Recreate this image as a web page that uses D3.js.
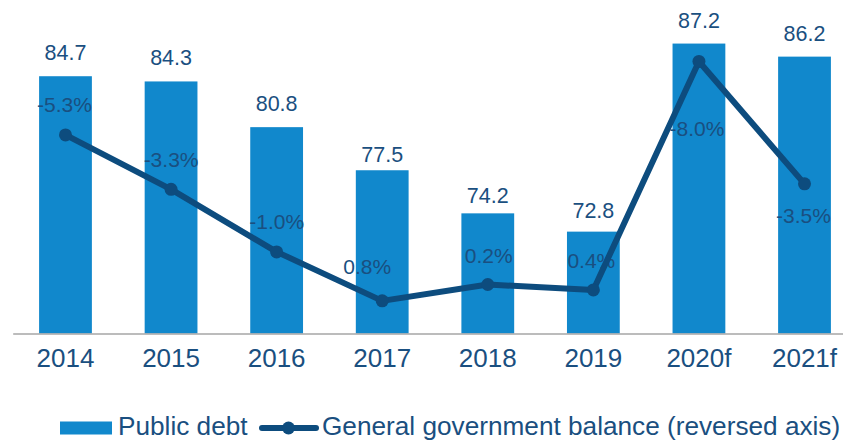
<!DOCTYPE html>
<html>
<head>
<meta charset="utf-8">
<script src="https://cdn.jsdelivr.net/npm/d3@7"></script>
<style>
  html, body { margin: 0; padding: 0; background: #fff; overflow: hidden; }
  svg { display: block; font-family: "Liberation Sans", Arial, sans-serif; }
</style>
</head>
<body>
<svg id="chart" width="843" height="440"></svg>
<script>
// ---- data ----
const categories = ["2014", "2015", "2016", "2017", "2018", "2019", "2020f", "2021f"];
const publicDebt = [84.7, 84.3, 80.8, 77.5, 74.2, 72.8, 87.2, 86.2];
const govBalance = [-5.3, -3.3, -1.0, 0.8, 0.2, 0.4, -8.0, -3.5];
const seriesNames = ["Public debt", "General government balance (reversed axis)"];

// ---- label placement (style, not data) ----
const debtLabelDy = [-16, -16, -16, -8, -10, -14, -16, -16];
const balLabelDx = [-1, 0, 0, -15, 1, -2, -2, -1];
const balLabelDy = [-23, -22, -23, -27, -22, -22, 75, 39];

const W = 843, H = 440;
const barColor = "#1188cc", lineColor = "#0d4c7e", textColor = "#1a4f80";

const svg = d3.select("#chart");

const x = d3.scaleBand().domain(categories).range([12.7, 857.3])
  .paddingInner(0.5).paddingOuter(0.25);
const yBar = d3.scaleLinear().domain([65, 90]).range([333.5, 7]);
const yLine = d3.scaleLinear().domain([2, -10]).range([333.5, 7]);

// bars
svg.append("g").selectAll("rect").data(categories).join("rect")
  .attr("x", d => x(d))
  .attr("width", x.bandwidth())
  .attr("y", (d, i) => yBar(publicDebt[i]))
  .attr("height", (d, i) => yBar.range()[0] - yBar(publicDebt[i]))
  .attr("fill", barColor);

// bar labels
svg.append("g").selectAll("text").data(categories).join("text")
  .attr("x", d => x(d) + x.bandwidth() / 2)
  .attr("y", (d, i) => yBar(publicDebt[i]) + debtLabelDy[i])
  .attr("text-anchor", "middle")
  .attr("font-size", 21.5)
  .attr("fill", textColor)
  .text((d, i) => publicDebt[i].toFixed(1));

// x axis
const xAxis = svg.append("g")
  .attr("transform", `translate(0,${yBar.range()[0]})`)
  .call(d3.axisBottom(x).tickSize(0).tickSizeOuter(0).tickPadding(15));
xAxis.select(".domain").attr("stroke", "#a6a6a6").attr("stroke-width", 1.5);
xAxis.selectAll("text")
  .attr("font-size", 26)
  .attr("font-family", "Liberation Sans, Arial, sans-serif")
  .attr("fill", textColor);

// balance labels (under line)
svg.append("g").selectAll("text").data(categories).join("text")
  .attr("x", (d, i) => x(d) + x.bandwidth() / 2 + balLabelDx[i])
  .attr("y", (d, i) => yLine(govBalance[i]) + balLabelDy[i])
  .attr("text-anchor", "middle")
  .attr("font-size", 21)
  .attr("fill", textColor)
  .text((d, i) => govBalance[i].toFixed(1) + "%");

// line
const line = d3.line()
  .x((d, i) => x(categories[i]) + x.bandwidth() / 2)
  .y(d => yLine(d));
svg.append("path").datum(govBalance)
  .attr("d", line)
  .attr("fill", "none")
  .attr("stroke", lineColor)
  .attr("stroke-width", 6)
  .attr("stroke-linejoin", "round");
svg.append("g").selectAll("circle").data(govBalance).join("circle")
  .attr("cx", (d, i) => x(categories[i]) + x.bandwidth() / 2)
  .attr("cy", d => yLine(d))
  .attr("r", 6.5)
  .attr("fill", lineColor);

// legend
const lg = svg.append("g");
lg.append("rect").attr("x", 60).attr("y", 421.5).attr("width", 52).attr("height", 13).attr("fill", barColor);
lg.append("text").attr("x", 118).attr("y", 435).attr("font-size", 26.2).attr("fill", textColor).text(seriesNames[0]);
lg.append("line").attr("x1", 262).attr("x2", 316).attr("y1", 428).attr("y2", 428)
  .attr("stroke", lineColor).attr("stroke-width", 6).attr("stroke-linecap", "round");
lg.append("circle").attr("cx", 288.5).attr("cy", 428).attr("r", 6.5).attr("fill", lineColor);
lg.append("text").attr("x", 322).attr("y", 435).attr("font-size", 26.2).attr("fill", textColor).text(seriesNames[1]);
</script>
</body>
</html>
